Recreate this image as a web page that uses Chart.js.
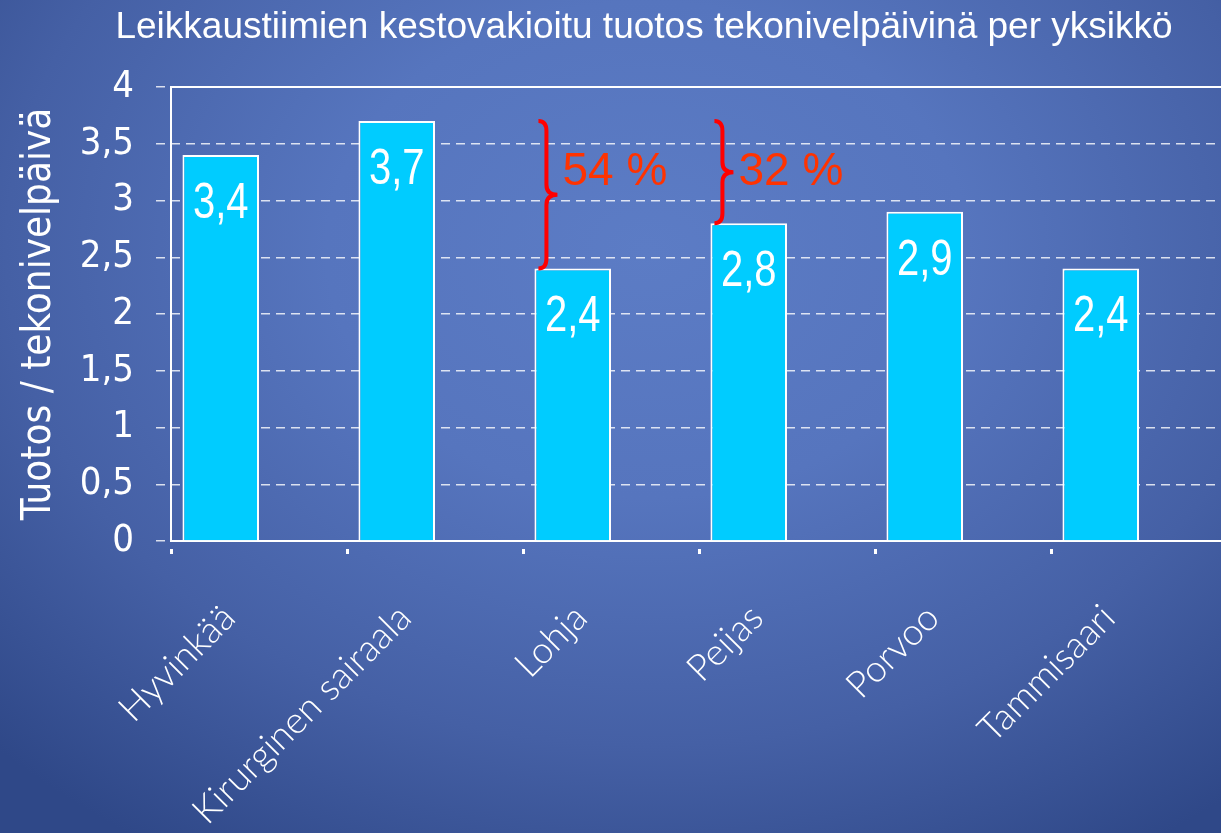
<!DOCTYPE html>
<html>
<head>
<meta charset="utf-8">
<script src="https://cdn.jsdelivr.net/npm/chart.js@4"></script>
<style>
  html, body {
    margin: 0;
    width: 1221px;
    height: 833px;
    overflow: hidden;
  }
  body {
    background: radial-gradient(ellipse 75% 85% at 53% 30%, #5c7cc5 0%, #5675be 35%, #4560a5 70%, #2f4888 100%);
  }
  #wrap { position: absolute; left: 0; top: 0; }
</style>
</head>
<body>
<div id="wrap"><canvas id="chart" width="1289" height="900"></canvas></div>
<script>
const categories = ['Hyvinkää', 'Kirurginen sairaala', 'Lohja', 'Peijas', 'Porvoo', 'Tammisaari'];
const values = [3.4, 3.7, 2.4, 2.8, 2.9, 2.4];
const emptySeries = [null, null, null, null, null, null];
const yMin = 0, yMax = 4, yStep = 0.5;
const chartTitle = 'Leikkaustiimien kestovakioitu tuotos tekonivelpäivinä per yksikkö';

// brace annotations: bar it starts from, value it reaches, label
const braceBars = ['Lohja', 'Peijas'];
const braceTop = 3.7;
const braceLabels = ['54 %', '32 %'];

const narrow = "'DejaVu Sans Condensed', 'DejaVu Sans', sans-serif";
const comma = v => String(v).replace('.', ',');

// title drawn by hand so it can sit off-centre like the slide
const titlePlugin = {
  id: 'slideTitle',
  afterDraw(chart) {
    const ctx = chart.ctx;
    ctx.save();
    ctx.fillStyle = '#ffffff';
    ctx.font = '37px "Liberation Sans", Arial, sans-serif';
    ctx.textAlign = 'center';
    ctx.textBaseline = 'alphabetic';
    ctx.fillText(chartTitle, 644, 38);
    ctx.restore();
  }
};

const frame = {
  id: 'frame',
  beforeDatasetsDraw(chart) {
    const a = chart.chartArea, ctx = chart.ctx;
    ctx.save();
    ctx.strokeStyle = '#ffffff';
    ctx.lineWidth = 2;
    ctx.strokeRect(a.left, a.top, a.right - a.left, a.bottom - a.top);
    ctx.restore();
  }
};

const barLabels = {
  id: 'barLabels',
  afterDatasetsDraw(chart) {
    const ctx = chart.ctx;
    const meta = chart.getDatasetMeta(0);
    ctx.save();
    ctx.fillStyle = '#ffffff';
    ctx.font = '50px "Liberation Sans", Arial, sans-serif';
    ctx.textAlign = 'center';
    ctx.textBaseline = 'middle';
    meta.data.forEach((bar, i) => {
      ctx.save();
      ctx.translate(bar.x, bar.y + 49);
      ctx.scale(0.8, 1);
      ctx.fillText(comma(values[i]), 0, 0);
      ctx.restore();
    });
    ctx.restore();
  }
};

const braces = {
  id: 'braces',
  afterDatasetsDraw(chart) {
    const ctx = chart.ctx;
    const y = chart.scales.y;
    const meta = chart.getDatasetMeta(0);
    ctx.save();
    braceBars.forEach((name, k) => {
      const bar = meta.data[categories.indexOf(name)];
      const x0 = bar.x - bar.width / 2 + 4;
      const xs = x0 + 8, xc = x0 + 19;
      const yt = y.getPixelForValue(braceTop);
      const yb = bar.y;
      const ym = (yt + yb) / 2;
      const r = 10;
      ctx.beginPath();
      ctx.moveTo(x0, yt);
      ctx.quadraticCurveTo(xs, yt, xs, yt + r);
      ctx.lineTo(xs, ym - r);
      ctx.quadraticCurveTo(xs, ym, xc, ym);
      ctx.quadraticCurveTo(xs, ym, xs, ym + r);
      ctx.lineTo(xs, yb - r);
      ctx.quadraticCurveTo(xs, yb, x0, yb);
      ctx.strokeStyle = '#ff0000';
      ctx.lineWidth = 4;
      ctx.stroke();
      ctx.fillStyle = '#ff3300';
      ctx.font = '46px "Liberation Sans", Arial, sans-serif';
      ctx.textAlign = 'left';
      ctx.textBaseline = 'middle';
      ctx.fillText(braceLabels[k], xc + 5, yt + 51);
    });
    ctx.restore();
  }
};

const data = {
  labels: categories,
  datasets: [{
    label: 'Tuotos',
    data: values,
    backgroundColor: '#00ccff',
    borderColor: '#ffffff',
    borderWidth: 2,
    categoryPercentage: 0.87,
    barPercentage: 1
  }, {
    label: '',
    data: emptySeries,
    backgroundColor: '#00ccff',
    categoryPercentage: 0.87,
    barPercentage: 1
  }]
};

const config = {
  type: 'bar',
  data: data,
  options: {
    responsive: false,
    animation: false,
    layout: { padding: { left: 0, right: 62, top: 87, bottom: 0 } },
    plugins: {
      legend: { display: false },
      tooltip: { enabled: false },
      title: { display: false }
    },
    scales: {
      x: {
        afterFit(scale) { scale.height = 359; },
        border: { display: false },
        grid: {
          offset: true,
          drawOnChartArea: false,
          drawTicks: true,
          tickLength: 13,
          tickWidth: 3,
          tickColor: '#ffffff',
          tickBorderDash: [0, 8, 5, 100]
        },
        ticks: {
          color: '#ffffff',
          font: { family: "Lato, 'Open Sans', sans-serif", size: 37, weight: 300 },
          minRotation: 45,
          maxRotation: 45,
          padding: 42,
          labelOffset: -30,
          autoSkip: false
        }
      },
      y: {
        min: yMin,
        max: yMax,
        afterFit(scale) { scale.width = 171; },
        border: { display: false, dash: [9, 6] },
        grid: {
          color: 'rgba(255,255,255,0.8)',
          lineWidth: 1.5,
          tickLength: 15,
          tickColor: 'rgba(255,255,255,0.8)',
          tickBorderDash: [9, 6]
        },
        ticks: {
          stepSize: yStep,
          color: '#ffffff',
          padding: 22,
          font: { family: narrow, size: 38 },
          callback: v => comma(v)
        },
        title: {
          display: true,
          text: 'Tuotos / tekonivelpäivä',
          color: '#ffffff',
          font: { family: narrow, size: 40, lineHeight: 1.2 },
          padding: { top: 16, bottom: 0 }
        }
      }
    }
  },
  plugins: [frame, barLabels, braces, titlePlugin]
};

new Chart(document.getElementById('chart'), config);
</script>
</body>
</html>
